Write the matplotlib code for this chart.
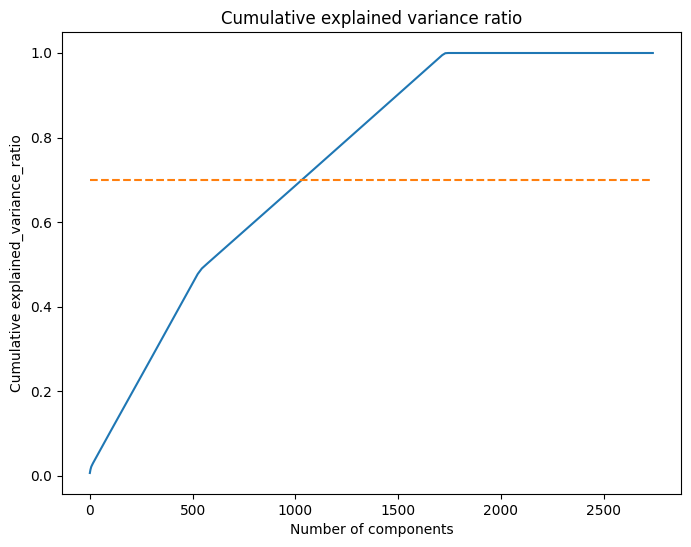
import numpy as np
from matplotlib import pyplot as plt

# cumulative explained variance
n_components = [0, 3, 7, 15, 100, 300, 500, 525, 545, 570, 1000, 1500, 1715, 1730, 1745, 2000, 2740]
cum_ratio = [0.006, 0.014, 0.021, 0.029, 0.104, 0.279, 0.455, 0.477, 0.490, 0.501,
             0.686, 0.902, 0.995, 0.9995, 1.0, 1.0, 1.0]
threshold_x = [0, 2740]
threshold_y = [0.7, 0.7]

fig = plt.figure(figsize=(6.91, 5.47), dpi=100)
ax = fig.add_axes([0.0893, 0.0969, 0.8962, 0.8446])
ax.plot(n_components, cum_ratio)
ax.plot(threshold_x, threshold_y, '--')
ax.set_title('Cumulative explained variance ratio')
ax.set_xlabel('Number of components')
ax.set_ylabel('Cumulative explained_variance_ratio')

plt.savefig('out.png')
